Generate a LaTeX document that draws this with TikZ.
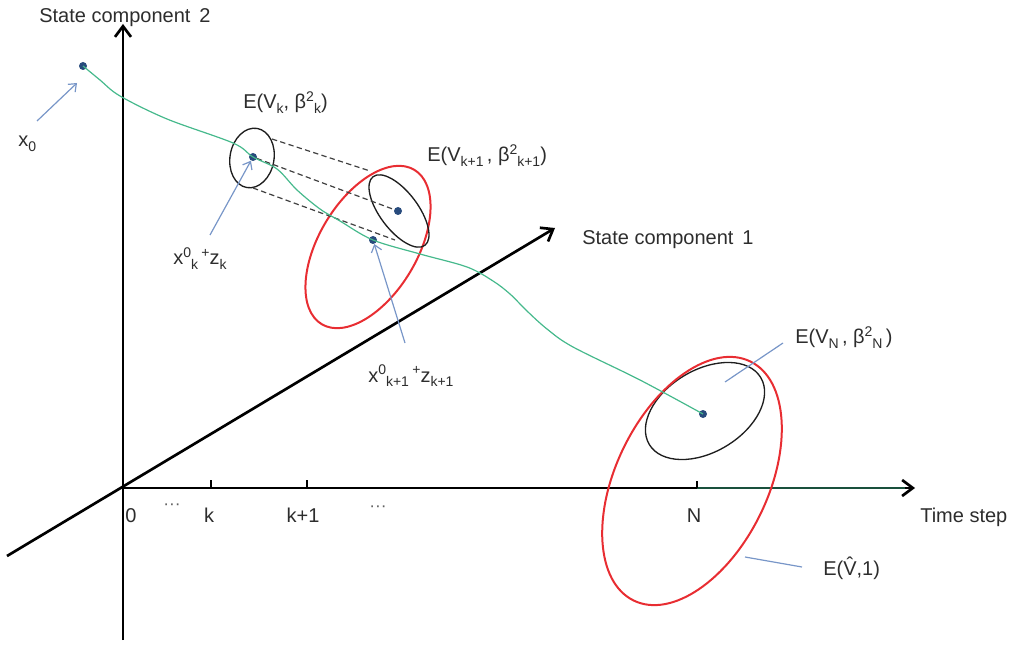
\documentclass[tikz,border=0pt]{standalone}
\usepackage{fontspec}
\setmainfont{Liberation Sans}
\usetikzlibrary{arrows.meta}
\definecolor{txt}{RGB}{45,45,45}
\definecolor{curvegreen}{RGB}{70,185,140}
\definecolor{axisgreen}{RGB}{25,80,60}
\definecolor{arrowblue}{RGB}{120,150,200}
\definecolor{dotblue}{RGB}{40,75,125}
\definecolor{ellred}{RGB}{232,45,50}
\definecolor{ellblack}{RGB}{30,30,30}
\newcommand\lo[1]{\raisebox{-0.45ex}{\fontsize{10.5}{12}\selectfont #1}}
\newcommand\hi[1]{\raisebox{0.75ex}{\fontsize{10.5}{12}\selectfont #1}}
\tikzset{
  lbl/.style={inner sep=0pt, text=txt, font=\fontsize{15}{17}\selectfont, anchor=base west},
  ticklbl/.style={inner sep=0pt, text=txt, font=\fontsize{15}{17}\selectfont, anchor=base},
  dotslbl/.style={inner sep=0pt, text=txt!75, font=\fontsize{13}{14}\selectfont},
  axis/.style={line width=2pt, black, -{Straight Barb[length=8pt,width=12pt,line width=2pt]}},
  tickmark/.style={line width=2.2pt, black},
  dot/.style={circle, fill=dotblue, inner sep=0pt, minimum size=6pt},
  blarrow/.style={arrowblue, line width=0.9pt, -{Straight Barb[length=5pt,width=8pt]}},
  blline/.style={arrowblue, line width=0.9pt},
  dashline/.style={ellblack!85, line width=0.9pt, dash pattern=on 4pt off 2.5pt},
  blackell/.style={ellblack, line width=1pt},
  redell/.style={ellred, line width=1.5pt},
  traj/.style={curvegreen, line width=0.9pt}
}
\begin{document}
\begin{tikzpicture}[x=0.75pt, y=-0.75pt]
\useasboundingbox (0,0) rectangle (1016,648);

% axes
\coordinate (O) at (123,488);
\coordinate (vbot) at (123,640);
\coordinate (vtop) at (123,24);
\coordinate (hend) at (915,488);
\coordinate (dstart) at (7,556);
\coordinate (dend) at (555,228);
\coordinate (tN) at (697,488);
\coordinate (hgreen) at (905,488);
\draw[axis] (vbot) -- (vtop);
\draw[axis] (O) -- (hend);
\draw[axis] (dstart) -- (dend);
\draw[line width=2pt, axisgreen] (tN) -- (hgreen);

% ticks
\coordinate (tk) at (211,488);
\coordinate (tk1) at (307,488);
\draw[tickmark] (tk) -- ++(0,-8);
\draw[tickmark] (tk1) -- ++(0,-8);
\draw[tickmark] (tN) -- ++(0,-7);

% tick labels
\node[ticklbl] (l0) at (131,522) {0};
\node[dotslbl] (ld1) at (172,507) {···};
\node[ticklbl] (lk) at (209,522) {k};
\node[ticklbl] (lk1) at (303,522) {k+1};
\node[dotslbl] (ld2) at (378,509) {···};
\node[ticklbl] (lN) at (694,522) {N};

% axis labels
\node[lbl] (ax2) at (39,23) {State component\, 2};
\node[lbl] (ax1) at (582,245) {State component\, 1};
\node[lbl] (axt) at (920,522) {Time step};

% ellipses
\draw[blackell, rotate around={80:(252,158)}] (252,158) ellipse [x radius=30, y radius=22];
\draw[redell, rotate around={59:(368,247)}] (368,247) ellipse [x radius=90, y radius=49];
\draw[blackell, rotate around={-53:(399,211)}] (399,211) ellipse [x radius=43, y radius=19];
\draw[blackell, rotate around={31:(705,411)}] (705,411) ellipse [x radius=65, y radius=41];
\draw[redell, rotate around={64:(692,481)}] (692,481) ellipse [x radius=133, y radius=76];

% dots
\node[dot] (x0) at (83,66) {};
\node[dot] (dk) at (253,157) {};
\node[dot] (dk1) at (398,211) {};
\node[dot] (dg) at (373,240) {};
\node[dot] (dN) at (703,414) {};

% dashed lines
\coordinate (da1) at (272,139);
\coordinate (db1) at (370,171);
\coordinate (da3) at (253,188);
\coordinate (db3) at (395,240);
\draw[dashline] (da1) -- (db1);
\draw[dashline] (dk) -- (dk1);
\draw[dashline] (da3) -- (db3);

% trajectory
\draw[traj] plot[smooth, tension=0.55] coordinates {(x0.center) (100,80) (120,96) (167,119) (233,143) (dk.center) (277,169) (297,190) (320,209) (340,221) (dg.center) (420,254) (467,267) (493,281) (510,294) (527,311) (547,329) (573,347) (640,380) (dN.center)};

% blue arrows and lines
\coordinate (ax0s) at (37,121);
\coordinate (ax0e) at (77,83);
\draw[blarrow] (ax0s) -- (ax0e);
\coordinate (aks) at (210,235);
\draw[blarrow] (aks) -- (dk);
\coordinate (ak1s) at (405,343);
\draw[blarrow] (ak1s) -- (dg);
\coordinate (aNs) at (725,382);
\coordinate (aNe) at (783,343);
\draw[blline] (aNs) -- (aNe);
\coordinate (aVs) at (745,557);
\coordinate (aVe) at (802,567);
\draw[blline] (aVs) -- (aVe);

% labels
\node[lbl] (lx0) at (18,147) {x\lo{0}};
\node[lbl] (lEk) at (243,109) {E(V\lo{k}, β\hi{2}\lo{k})};
\node[lbl] (lEk1) at (427,162) {E(V\lo{k+1}\,, β\hi{2}\lo{k+1})};
\node[lbl] (lxk) at (173,265) {x\hi{0}\lo{k}\,\hi{+}z\lo{k}};
\node[lbl] (lxk1) at (368,382) {x\hi{0}\lo{k+1}\,\hi{+}z\lo{k+1}};
\node[lbl] (lEN) at (795,344) {E(V\lo{N}\,, β\hi{2}\lo{N}\,)};
\node[lbl] (lEV) at (823,575) {E(\^{V},1)};
\end{tikzpicture}
\end{document}
